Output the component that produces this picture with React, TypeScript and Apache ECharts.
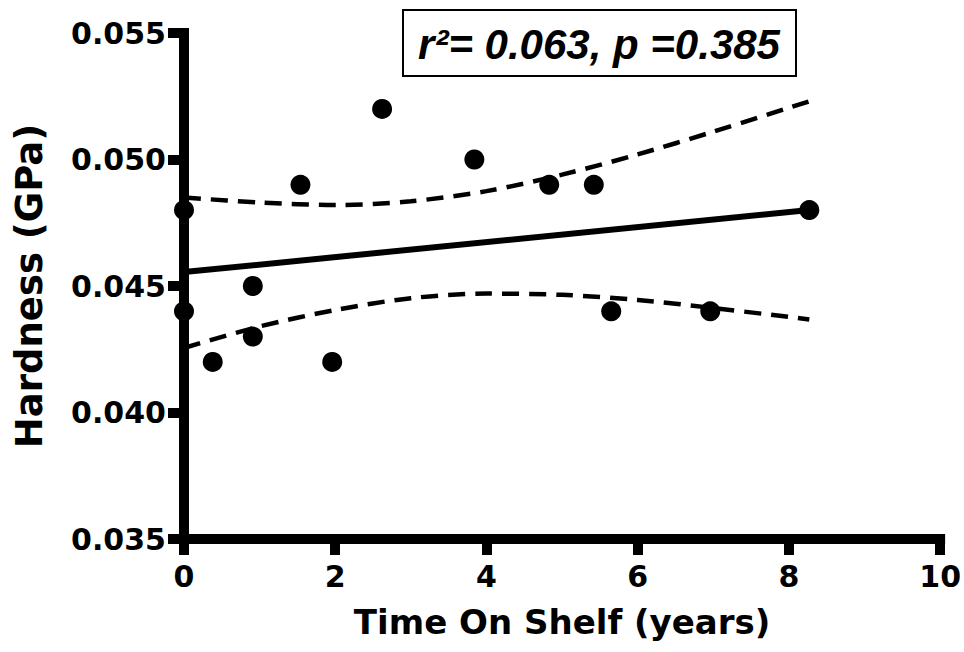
import React, { useEffect, useRef } from "react";
import * as echarts from "echarts";

// Measured points
const timeOnShelf = [0, 0, 0.38, 0.91, 0.91, 1.54, 1.96, 2.62, 3.84, 4.83, 5.42, 5.65, 6.96, 8.27];
const hardness = [0.048, 0.044, 0.042, 0.045, 0.043, 0.049, 0.042, 0.052, 0.05, 0.049, 0.049, 0.044, 0.044, 0.048];

// Regression line
const fitX = [0, 8.27];
const fitY = [0.04555, 0.048];

// 95% confidence band
const bandX = [0, 1, 2, 3, 4, 5, 6, 7, 8.27];
const upperBand = [0.0485, 0.0483, 0.0482, 0.04835, 0.04875, 0.0494, 0.0502, 0.0511, 0.0523];
const lowerBand = [0.04255, 0.0434, 0.04405, 0.04452, 0.0447, 0.04465, 0.04445, 0.04413, 0.04368];

const statsLabel = "r\u00B2= 0.063, p =0.385";
const xName = "Time On Shelf (years)";
const yName = "Hardness (GPa)";

const AXIS_FONT = "DejaVu Sans";

export default function App() {
  const ref = useRef<HTMLDivElement>(null);

  useEffect(() => {
    if (!ref.current) return;
    const chart = echarts.init(ref.current, undefined, { renderer: "svg" });

    const axisCommon = {
      axisLine: { show: true, lineStyle: { color: "#000", width: 10, cap: "square" } },
      axisTick: { show: true, length: 16, lineStyle: { color: "#000", width: 10 } },
      splitLine: { show: false },
      nameLocation: "middle",
    };

    chart.setOption({
      animation: false,
      backgroundColor: "#fff",
      grid: { left: 184, right: 22, top: 33, bottom: 113, containLabel: false },
      xAxis: {
        type: "value",
        min: 0,
        max: 10,
        interval: 2,
        ...axisCommon,
        name: xName,
        nameGap: 66,
        nameTextStyle: { fontFamily: AXIS_FONT, fontWeight: "bold", fontSize: 34, color: "#000" },
        axisLabel: {
          margin: 22,
          fontFamily: AXIS_FONT,
          fontWeight: "bold",
          fontSize: 30,
          color: "#000",
        },
      },
      yAxis: {
        type: "value",
        min: 0.035,
        max: 0.055,
        interval: 0.005,
        ...axisCommon,
        name: yName,
        nameGap: 136,
        nameRotate: 90,
        nameTextStyle: { fontFamily: AXIS_FONT, fontWeight: "bold", fontSize: 37, color: "#000" },
        axisLabel: {
          margin: 18,
          fontFamily: AXIS_FONT,
          fontWeight: "bold",
          fontSize: 30,
          color: "#000",
          formatter: (v: number) => v.toFixed(3),
        },
      },
      series: [
        {
          type: "line",
          data: bandX.map((x, i) => [x, upperBand[i]]),
          smooth: 0.3,
          showSymbol: false,
          lineStyle: { color: "#000", width: 4.5, type: [17, 10] },
          z: 2,
        },
        {
          type: "line",
          data: bandX.map((x, i) => [x, lowerBand[i]]),
          smooth: 0.3,
          showSymbol: false,
          lineStyle: { color: "#000", width: 4.5, type: [17, 10] },
          z: 2,
        },
        {
          type: "line",
          data: fitX.map((x, i) => [x, fitY[i]]),
          showSymbol: false,
          lineStyle: { color: "#000", width: 6 },
          z: 3,
        },
        {
          type: "scatter",
          data: timeOnShelf.map((x, i) => [x, hardness[i]]),
          symbol: "circle",
          symbolSize: 20,
          itemStyle: { color: "#000", opacity: 1 },
          z: 5,
        },
      ],
      graphic: [
        {
          type: "rect",
          shape: { x: 403, y: 10, width: 393, height: 66 },
          style: { fill: "#fff", stroke: "#000", lineWidth: 2 },
          z: 10,
        },
        {
          type: "text",
          x: 599,
          y: 44,
          style: {
            text: statsLabel,
            fontFamily: "Liberation Sans",
            fontWeight: "bold",
            fontStyle: "italic",
            fontSize: 42,
            align: "center",
            verticalAlign: "middle",
            fill: "#000",
          },
          z: 11,
        },
      ],
    });

    return () => chart.dispose();
  }, []);

  return (
    <div
      ref={ref}
      style={{ position: "fixed", left: 0, top: 0, width: 964, height: 652 }}
    />
  );
}
